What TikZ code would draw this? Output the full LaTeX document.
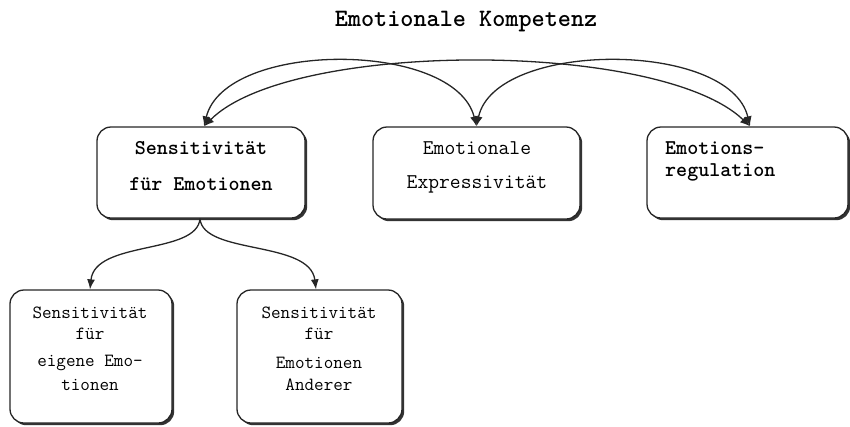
\documentclass[tikz,border=0pt]{standalone}
\usepackage{fontspec}
\usetikzlibrary{shadows,arrows.meta}
\tikzset{
  box/.style={draw=black!85, line width=1.3bp, rounded corners=14bp, fill=white,
    drop shadow={shadow xshift=2.2bp, shadow yshift=-2.2bp, fill=black!80, opacity=1}},
  txtbig/.style={inner sep=0pt, font=\ttfamily\fontsize{21bp}{24bp}\selectfont},
  txtbold/.style={inner sep=0pt, font=\ttfamily\bfseries\fontsize{21bp}{24bp}\selectfont},
  txtsmall/.style={inner sep=0pt, font=\ttfamily\fontsize{18.6bp}{22bp}\selectfont},
  conn/.style={line width=1.3bp, draw=black!85, {Latex[length=10bp,width=8bp]}-{Latex[length=10bp,width=8bp]}},
  conn1/.style={line width=1.3bp, draw=black!85, -{Latex[length=10bp,width=8bp]}}
}
\begin{document}
\begin{tikzpicture}[x=1bp,y=-1bp]
\useasboundingbox (0,0) rectangle (850,426);
% title
\node[inner sep=0pt, font=\ttfamily\bfseries\fontsize{25bp}{28bp}\selectfont] (title) at (466,22) {Emotionale Kompetenz};
% boxes
\node[box, minimum width=208bp, minimum height=91bp] (b1) at (201,172.5) {};
\node[box, minimum width=207bp, minimum height=92bp] (b2) at (476.5,173) {};
\node[box, minimum width=201bp, minimum height=91bp] (b3) at (747.5,172.5) {};
\node[box, minimum width=162bp, minimum height=133bp] (b4) at (91,356.5) {};
\node[box, minimum width=165bp, minimum height=133bp] (b5) at (319.5,356.5) {};
% texts
\node[txtbold] (t1a) at (201,148) {Sensitivität};
\node[txtbold] (t1b) at (201,184) {für Emotionen};
\node[txtbig] (t2a) at (477,148) {Emotionale};
\node[txtbig] (t2b) at (477,184) {Expressivität};
\node[txtbold, anchor=west] (t3a) at (665,148) {Emotions-};
\node[txtbold, anchor=west] (t3b) at (665,172) {regulation};
\node[txtsmall] (t4a) at (90,313) {Sensitivität};
\node[txtsmall] (t4b) at (90,334) {für};
\node[txtsmall] (t4c) at (90,363) {eigene Emo-};
\node[txtsmall] (t4d) at (90,385) {tionen};
\node[txtsmall] (t5a) at (319,313) {Sensitivität};
\node[txtsmall] (t5b) at (319,334) {für};
\node[txtsmall] (t5c) at (319,363) {Emotionen};
\node[txtsmall] (t5d) at (319,385) {Anderer};
% anchor coordinates
\coordinate (p1) at ([xshift=3bp]b1.north);
\coordinate (p2) at (b2.north);
\coordinate (p3) at ([xshift=2.5bp]b3.north);
\coordinate (q1) at ([xshift=-1bp]b1.south);
\coordinate (q4) at ([xshift=-1bp]b4.north);
\coordinate (q5) at ([xshift=-3.5bp]b5.north);
% top connectors
\draw[conn] (p1) .. controls (225,40) and (455,40) .. (p2);
\draw[conn] (p2) .. controls (495,40) and (730,40) .. (p3);
\draw[conn] (p1) .. controls (290,40) and (660,40) .. (p3);
% bottom connectors
\draw[conn1] (q1) .. controls (197,255) and (95,240) .. (q4);
\draw[conn1] (q1) .. controls (203,255) and (310,240) .. (q5);
\end{tikzpicture}
\end{document}
